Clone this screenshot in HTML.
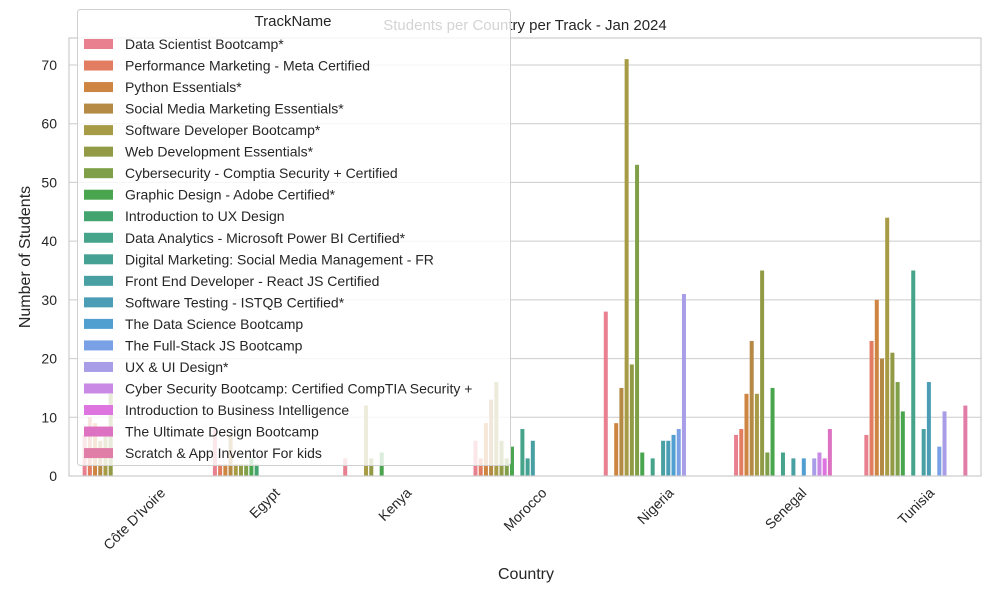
<!DOCTYPE html>
<html><head><meta charset="utf-8"><style>
body{margin:0;background:#fff;}
svg{font-family:"Liberation Sans",Arial,sans-serif;}
</style></head><body>
<svg id="chart" width="1000" height="600">
<g id="grid"></g><g id="bars"></g><g id="axes"></g><g id="legend"></g>
</svg>
<script>
const countries = ["Côte D'Ivoire","Egypt","Kenya","Morocco","Nigeria","Senegal","Tunisia"];
const tracks = ["Data Scientist Bootcamp*","Performance Marketing - Meta Certified","Python Essentials*","Social Media Marketing Essentials*","Software Developer Bootcamp*","Web Development Essentials*","Cybersecurity - Comptia Security + Certified","Graphic Design - Adobe Certified*","Introduction to UX Design","Data Analytics - Microsoft Power BI Certified*","Digital Marketing: Social Media Management - FR","Front End Developer - React JS Certified","Software Testing - ISTQB Certified*","The Data Science Bootcamp","The Full-Stack JS Bootcamp","UX & UI Design*","Cyber Security Bootcamp: Certified CompTIA Security +","Introduction to Business Intelligence","The Ultimate Design Bootcamp","Scratch & App Inventor For kids"];
const colors = ["#e8808f","#e27d62","#cf8542","#b58a45","#a79b45","#929a45","#7fa048","#4aa54f","#44a46f","#45a48a","#46a195","#48a0a3","#4a9db5","#509fd0","#7aa0e6","#a89ee8","#c88ae4","#de74e0","#de72c2","#e17ea8"];
// values[country][track]
const valsCote    = [7,10,9,6,8,14,0,0,0,0,0,0,0,0,0,0,0,0,0,0];
const valsEgypt   = [8,2,2,7,2,2,2,3,2,0,0,0,0,0,0,0,0,0,0,0];
const valsKenya   = [3,0,0,0,12,3,0,4,0,0,0,0,0,0,0,0,0,0,0,0];
const valsMorocco = [6,3,9,13,16,6,3,5,0,8,3,6,0,0,0,0,0,0,0,0];
const valsNigeria = [28,0,9,15,71,19,53,4,0,3,0,6,6,7,8,31,0,0,0,0];
const valsSenegal = [7,8,14,23,14,35,4,15,0,4,0,3,0,3,0,3,4,3,8,0];
const valsTunisia = [7,23,30,20,44,21,16,11,0,35,0,8,16,0,5,11,0,0,0,12];
const values = [valsCote,valsEgypt,valsKenya,valsMorocco,valsNigeria,valsSenegal,valsTunisia];
const yTicks = [0,10,20,30,40,50,60,70];

const NS="http://www.w3.org/2000/svg";
const X0=69,X1=981,Y0=476,YT=38,yMax=74.6;
const band=(X1-X0)/countries.length;
const y=v=>Y0-v*(Y0-YT)/yMax;
const bw=band*0.8/tracks.length;
const xBar=(c,t)=>X0+band*c+band*0.1+bw*t;
function mk(tag,attrs,parent){const e=document.createElementNS(NS,tag);for(const k in attrs)e.setAttribute(k,attrs[k]);parent.appendChild(e);return e;}
const grid=document.getElementById('grid'),bars=document.getElementById('bars'),axes=document.getElementById('axes'),leg=document.getElementById('legend');
mk('rect',{x:X0,y:YT,width:X1-X0,height:Y0-YT,fill:'#fff'},grid);
yTicks.forEach(v=>{
  const l=mk('line',{x1:X0,x2:X1,y1:y(v),y2:y(v),stroke:'#cccccc','stroke-width':1},grid);
  
  
  const t=mk('text',{x:X0-12,y:y(v)+5,'text-anchor':'end','font-size':14,fill:'#262626'},axes);
  t.textContent=v;
  
  
});
values.forEach((row,c)=>{
  row.forEach((v,t)=>{
    if(!v)return;
    const r=mk('rect',{x:xBar(c,t)+0.6,y:y(v),width:bw-1.2,height:Y0-y(v),fill:colors[t]},bars);
    
    
  });
});
const frame=mk('rect',{x:X0,y:YT,width:X1-X0,height:Y0-YT,fill:'none',stroke:'#cccccc','stroke-width':1.2},axes);


countries.forEach((c,i)=>{
  const cx=X0+band*(i+0.5);
  const t=mk('text',{'font-size':14,fill:'#262626','text-anchor':'middle'},axes);
  t.textContent=c;
  
  
  const w=t.getComputedTextLength?t.getComputedTextLength():c.length*7.5;
  const ext=(w+12)/Math.SQRT2;
  const cy=486+ext/2;
  t.setAttribute('x',cx);t.setAttribute('y',cy+5);
  t.setAttribute('transform',`rotate(-45 ${cx} ${cy})`);
});
const xl=mk('text',{x:526,y:579,'text-anchor':'middle','font-size':16,fill:'#262626'},axes);xl.textContent='Country';

const yl=mk('text',{x:0,y:0,'text-anchor':'middle','font-size':16,fill:'#262626',transform:'translate(30,257) rotate(-90)'},axes);yl.textContent='Number of Students';

const ti=mk('text',{x:525,y:30,'text-anchor':'middle','font-size':15,fill:'#262626'},axes);ti.textContent='Students per Country per Track - Jan 2024';

// legend
const lb=mk('rect',{x:77.5,y:9.5,width:433,height:456,rx:3,fill:'rgba(255,255,255,0.8)',stroke:'#d0d0d0','stroke-width':1},leg);

const lt=mk('text',{x:293,y:26,'text-anchor':'middle','font-size':15,fill:'#262626'},leg);lt.textContent='TrackName';

tracks.forEach((n,i)=>{
  const yy=44+i*21.53;
  const g=mk('g',{},leg);
  
  
  mk('rect',{x:84,y:yy-5,width:29,height:10,fill:colors[i]},g);
  const t=mk('text',{x:125,y:yy+5,'font-size':14,fill:'#262626'},g);t.textContent=n;
});
</script>
</body></html>
